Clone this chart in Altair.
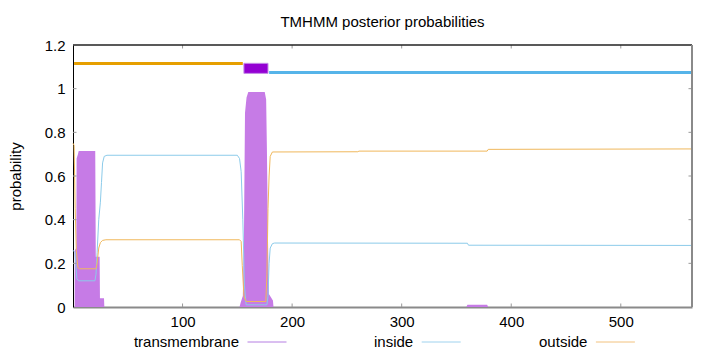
import altair as alt
import pandas as pd

chart_title = "TMHMM posterior probabilities"
seq_len = 565

# posterior probability of transmembrane
tm_x = [0, 1.5, 1.6, 3.0, 3.3, 4.5, 5.2, 20.3, 20.8, 24.3, 24.6, 28.3, 28.6,
        152, 153, 155, 156, 157, 158.4, 160, 175, 176.3, 177, 178, 178.8, 182.5, 183,
        359, 360, 378, 379, 565]
tm_p = [0, 0, 0.26, 0.27, 0.68, 0.70, 0.715, 0.715, 0.23, 0.23, 0.04, 0.04, 0,
        0, 0.02, 0.05, 0.30, 0.89, 0.96, 0.985, 0.985, 0.95, 0.72, 0.30, 0.06, 0.03, 0,
        0, 0.01, 0.01, 0, 0]

# posterior probability of inside
in_x = [0, 1.8, 3.5, 5, 20, 21, 22, 23.5, 25, 26, 27, 28.5, 31, 150, 152, 153.5, 155,
        156.5, 158, 177, 178, 179, 180, 182, 184, 360, 361, 565]
in_p = [0.26, 0.25, 0.13, 0.12, 0.12, 0.15, 0.25, 0.40, 0.48, 0.57, 0.66, 0.69, 0.695,
        0.695, 0.68, 0.62, 0.40, 0.10, 0.01, 0.01, 0.05, 0.20, 0.27, 0.29, 0.293,
        0.292, 0.283, 0.282]

# posterior probability of outside
out_x = [0, 1, 2, 3, 4.5, 6, 21, 22, 23.5, 25, 27, 30, 152, 153.5, 154.5, 156, 158,
         176, 177, 178, 179, 180, 182, 260, 261, 378, 379, 565]
out_p = [0.75, 0.74, 0.45, 0.26, 0.18, 0.175, 0.175, 0.20, 0.27, 0.295, 0.305, 0.308,
         0.308, 0.30, 0.19, 0.05, 0.025, 0.025, 0.15, 0.45, 0.60, 0.69, 0.71, 0.711,
         0.714, 0.714, 0.722, 0.724]

# predicted topology
topo_label = ["outside", "TMhelix", "inside"]
topo_start = [1, 156, 179]
topo_end = [155, 178, 565]

x_ticks = [100, 200, 300, 400, 500]
y_ticks = [0, 0.2, 0.4, 0.6, 0.8, 1, 1.2]
legend_names = ["transmembrane", "inside", "outside"]
legend_colors = ["#b57fe2", "#9fd2ee", "#f2c27e"]

FONT = "Liberation Sans"
FS = 15
W, H = 619, 262

xscale = alt.Scale(domain=[0, seq_len], nice=False, zero=False)
yscale = alt.Scale(domain=[0, 1.2], nice=False)

xaxis = alt.Axis(values=x_ticks, ticks=False, grid=False, domainColor="#8a8a8a",
                 domainWidth=2, labelFontSize=FS, labelFont=FONT, labelColor="black",
                 labelPadding=7, title=None, labelFlush=False)
yaxis = alt.Axis(values=y_ticks, format="~g", ticks=False, grid=False, domainColor="black",
                 domainWidth=1, labelFontSize=FS, labelFont=FONT, labelColor="black",
                 labelPadding=8, title="probability", titleFont=FONT, titleFontSize=FS,
                 titleFontWeight="normal", titleColor="black", titleX=-58, titleY=H / 2,
                 titleAlign="center", titleBaseline="middle", titleAngle=270,
                 labelFlush=False)

tm_df = pd.DataFrame({"x": tm_x, "p": tm_p})
in_df = pd.DataFrame({"x": in_x, "p": in_p})
out_df = pd.DataFrame({"x": out_x, "p": out_p})
topo_df = pd.DataFrame({"label": topo_label, "start": topo_start, "end": topo_end})
one = pd.DataFrame({"a": [0]})

tm_area = alt.Chart(tm_df).mark_area(color="#c67be6", opacity=1).encode(
    x=alt.X("x:Q", scale=xscale, axis=xaxis),
    y=alt.Y("p:Q", scale=yscale, axis=yaxis),
)
in_line = alt.Chart(in_df).mark_line(color="#8ccbea", strokeWidth=1).encode(
    x=alt.X("x:Q", scale=xscale), y=alt.Y("p:Q", scale=yscale))
out_line = alt.Chart(out_df).mark_line(color="#f0b85c", strokeWidth=1).encode(
    x=alt.X("x:Q", scale=xscale), y=alt.Y("p:Q", scale=yscale))

out_bar = alt.Chart(topo_df).transform_filter(alt.datum.label == "outside").mark_rule(
    color="#e69f00", strokeWidth=3).encode(
    x=alt.X("start:Q", scale=xscale), x2="end:Q", y=alt.datum(1.115))
in_bar = alt.Chart(topo_df).transform_filter(alt.datum.label == "inside").mark_rule(
    color="#56b4e9", strokeWidth=3).encode(
    x=alt.X("start:Q", scale=xscale), x2="end:Q", y=alt.datum(1.074))
tm_box = alt.Chart(topo_df).transform_filter(alt.datum.label == "TMhelix").mark_rect(
    color="#9400d3", stroke="#c58be8", strokeWidth=1).encode(
    x=alt.X("start:Q", scale=xscale), x2="end:Q", y=alt.datum(1.070), y2=alt.datum(1.116))

xt_df = pd.DataFrame({"x": x_ticks})
yt_df = pd.DataFrame({"p": y_ticks[1:-1]})
tick_bottom = alt.Chart(xt_df).mark_rule(color="#999", strokeWidth=1).encode(
    x=alt.X("x:Q", scale=xscale), y=alt.datum(0), y2=alt.datum(0.016))
tick_top = alt.Chart(xt_df).mark_rule(color="#999", strokeWidth=1).encode(
    x=alt.X("x:Q", scale=xscale), y=alt.datum(1.2), y2=alt.datum(1.184))
tick_left = alt.Chart(yt_df).mark_rule(color="#999", strokeWidth=1).encode(
    y=alt.Y("p:Q", scale=yscale), x=alt.datum(0), x2=alt.datum(3.2))
tick_right = alt.Chart(yt_df).mark_rule(color="#999", strokeWidth=1).encode(
    y=alt.Y("p:Q", scale=yscale), x=alt.datum(seq_len), x2=alt.datum(seq_len - 3.2))

border_top = alt.Chart(one).mark_rule(color="#222", strokeWidth=1.5).encode(y=alt.datum(1.2))
border_right = alt.Chart(one).mark_rule(color="#8a8a8a", strokeWidth=2).encode(x=alt.datum(seq_len))

legend_layers = []
col_w = 174.2
for i, (name, col) in enumerate(zip(legend_names, legend_colors)):
    right = 166 + i * col_w
    legend_layers.append(alt.Chart(one).mark_text(
        text=name, font=FONT, fontSize=FS, align="right", baseline="alphabetic",
        color="black").encode(x=alt.value(right), y=alt.value(301.5)))
    legend_layers.append(alt.Chart(one).mark_rule(color=col, strokeWidth=1).encode(
        x=alt.value(right + 8.5), x2=alt.value(right + 47.5), y=alt.value(297)))

chart = alt.layer(
    tm_area, in_line, out_line, out_bar, tm_box, in_bar,
    tick_bottom, tick_top, tick_left, tick_right, border_top, border_right,
    *legend_layers,
).properties(
    width=W, height=H,
    padding={"left": 73, "top": 45, "right": 28, "bottom": 45},
    autosize="none",
    title=alt.TitleParams(chart_title, font=FONT, fontSize=FS, fontWeight="normal",
                          anchor="middle", frame="group", offset=18, dy=22,
                          baseline="alphabetic", color="black"),
    background="white",
).configure_view(stroke=None)

chart.save("out.html", embed_options={"renderer": "svg", "actions": False})
